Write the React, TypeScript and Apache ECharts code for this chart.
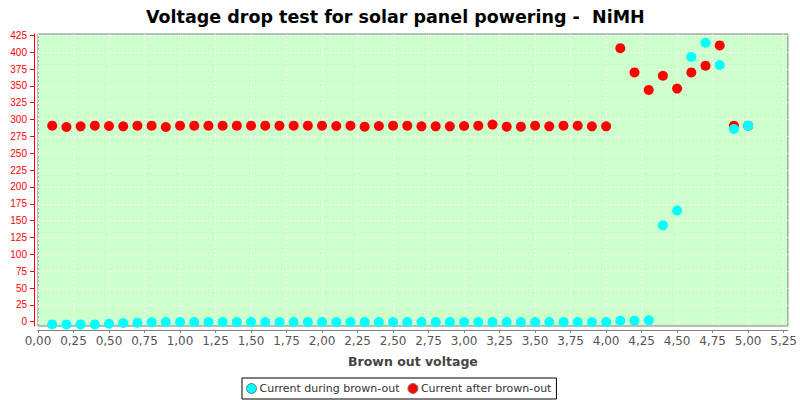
import React, { useEffect, useRef } from "react";
import * as echarts from "echarts";

const voltages = [
  0.1, 0.2, 0.3, 0.4, 0.5, 0.6, 0.7, 0.8, 0.9, 1.0,
  1.1, 1.2, 1.3, 1.4, 1.5, 1.6, 1.7, 1.8, 1.9, 2.0,
  2.1, 2.2, 2.3, 2.4, 2.5, 2.6, 2.7, 2.8, 2.9, 3.0,
  3.1, 3.2, 3.3, 3.4, 3.5, 3.6, 3.7, 3.8, 3.9, 4.0,
  4.1, 4.2, 4.3, 4.4, 4.5, 4.6, 4.7, 4.8, 4.9, 5.0,
];

const currentDuring = [
  -4, -4, -4, -4, -3, -2, -1.5, -1, -0.5, -0.5,
  -0.5, -0.5, -0.5, -0.5, -0.5, -0.5, -0.5, -0.5, -0.5, -0.5,
  -0.5, -0.5, -0.5, -0.5, -0.5, -0.5, -0.5, -0.5, -0.5, -0.5,
  -0.5, -0.5, -0.5, -0.5, -0.5, -0.5, -0.5, -0.5, -0.5, -0.5,
  1.5, 1.5, 2, 143, 165, 393, 414, 381, 286, 291,
];

const currentAfter = [
  291, 289, 290, 291, 290.5, 290, 291, 291, 289, 291,
  291, 291, 291, 291, 291, 291, 291, 291, 291, 291,
  290.5, 291, 289.5, 290.5, 291, 291, 290, 290, 290, 290.5,
  291, 292.5, 289.5, 289.5, 291, 290, 291, 291, 290, 290,
  406, 370, 344, 365, 346, 370, 380, 410, 291, 291,
];

const xTicks = [
  0, 0.25, 0.5, 0.75, 1.0, 1.25, 1.5, 1.75, 2.0, 2.25, 2.5,
  2.75, 3.0, 3.25, 3.5, 3.75, 4.0, 4.25, 4.5, 4.75, 5.0, 5.25,
];

const yTicks = [
  0, 25, 50, 75, 100, 125, 150, 175, 200, 225, 250, 275, 300, 325, 350, 375, 400, 425,
];

const seriesNames = ["Current during brown-out", "Current after brown-out"];
const chartTitle = "Voltage drop test for solar panel powering -  NiMH";
const xAxisName = "Brown out voltage";

export default function App() {
  const ref = useRef<HTMLDivElement>(null);

  useEffect(() => {
    if (!ref.current) return;
    const chart = echarts.init(ref.current, undefined, { renderer: "svg" });
    const gridLine = { show: true, lineStyle: { color: "#ffffff", width: 1, type: [2, 2] as any, opacity: 0.85 } };
    chart.setOption({
      animation: false,
      backgroundColor: "#ffffff",
      title: {
        text: chartTitle,
        left: 141,
        top: 3,
        textStyle: { fontFamily: "DejaVu Sans", fontSize: 17.5, fontWeight: "bold", color: "#000000" },
      },
      grid: {
        left: 38,
        top: 34,
        width: 750,
        height: 292,
        show: true,
        backgroundColor: "#ccffcc",
        borderColor: "#808080",
        borderWidth: 1,
      },
      legend: {
        data: seriesNames,
        left: 242,
        bottom: 1,
        icon: "circle",
        itemWidth: 10,
        itemHeight: 10,
        itemGap: 8,
        padding: [5, 5, 5, 4],
        borderColor: "#000000",
        borderWidth: 1,
        borderRadius: 0,
        itemStyle: { borderColor: "#777777", borderWidth: 1 },
        textStyle: { fontFamily: "DejaVu Sans", fontSize: 11, color: "#333333", padding: [0, 0, 0, -2] },
      },
      xAxis: {
        type: "value",
        min: 0,
        max: 5.28,
        offset: 4,
        name: xAxisName,
        nameLocation: "middle",
        nameGap: 25,
        nameTextStyle: { fontFamily: "DejaVu Sans", fontSize: 12.5, fontWeight: "bold", color: "#444444" },
        axisLine: { show: true, onZero: false, lineStyle: { color: "#808080" } },
        axisTick: { show: true, length: 3, customValues: xTicks, lineStyle: { color: "#808080" } },
        axisLabel: {
          customValues: xTicks,
          fontFamily: "DejaVu Sans",
          fontSize: 12,
          color: "#555555",
          margin: 5,
          formatter: (v: number) => v.toFixed(2).replace(".", ","),
        },
        splitLine: gridLine,
      },
      yAxis: {
        type: "value",
        min: -6.4,
        max: 427,
        offset: 4,
        axisLine: { show: true, onZero: false, lineStyle: { color: "#ff0000" } },
        axisTick: { show: true, length: 4, customValues: yTicks, lineStyle: { color: "#ff0000" } },
        axisLabel: {
          customValues: yTicks,
          fontFamily: "Liberation Sans",
          fontSize: 10,
          color: "#ff0000",
          margin: 7,
          formatter: (v: number) => String(v),
        },
        splitLine: gridLine,
      },
      series: [
        {
          name: seriesNames[0],
          type: "scatter",
          z: 3,
          symbolSize: 10,
          itemStyle: { color: "#00ffff", opacity: 1 },
          data: voltages.map((v, i) => [v, currentDuring[i]]),
        },
        {
          name: seriesNames[1],
          type: "scatter",
          z: 2,
          symbolSize: 10,
          itemStyle: { color: "#ff0000", opacity: 1 },
          data: voltages.map((v, i) => [v, currentAfter[i]]),
        },
      ],
    });
    return () => chart.dispose();
  }, []);

  return (
    <div
      ref={ref}
      style={{ position: "absolute", left: 0, top: 0, width: 800, height: 400 }}
    />
  );
}
